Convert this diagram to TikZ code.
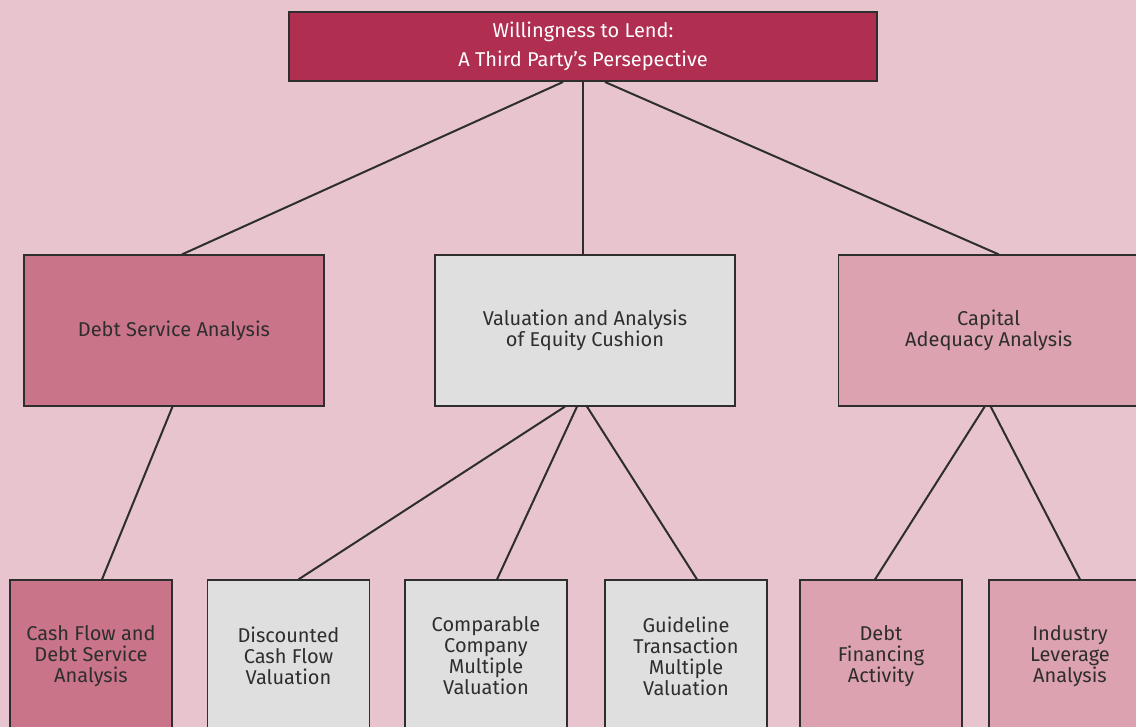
\documentclass[tikz,border=0pt]{standalone}
\usepackage{fontspec}
\setmainfont{Fira Sans}
\definecolor{wlbg}{HTML}{E8C4CE}
\definecolor{wlcrimson}{HTML}{B02E50}
\definecolor{wlrose}{HTML}{C97489}
\definecolor{wlgray}{HTML}{DFDFDF}
\definecolor{wlpink}{HTML}{DCA2B0}
\definecolor{wlink}{HTML}{2E2E2E}
\begin{document}
\begin{tikzpicture}[x=1pt, y=1pt,
  wlbox/.style = {draw=wlink, line width=1.2pt, align=center, inner sep=0pt, text=wlink,
    font=\fontsize{20}{21}\selectfont},
  wltop/.style = {wlbox, fill=wlcrimson, text=white, line width=2pt,
    minimum width=588pt, minimum height=69pt, font=\fontsize{20}{29}\selectfont},
  wlmid/.style = {wlbox, minimum width=300pt, minimum height=151pt},
  wlleaf/.style = {wlbox, minimum width=162pt, minimum height=152pt},
  wlline/.style = {line width=2pt, draw=wlink}
]
  % canvas
  \useasboundingbox (0,0) rectangle (1136,-727);
  \clip (0,0) rectangle (1136,-727);
  \fill[wlbg] (0,0) rectangle (1136,-727);
  % top
  \node[wltop] (lend) at (583,-46.5) {Willingness to Lend:\\A Third Party’s Persepective};
  % second row
  \node[wlmid, fill=wlrose] (debtsvc) at (174,-330.5) {Debt Service Analysis};
  \node[wlmid, fill=wlgray] (equity) at (585,-330.5) {Valuation and Analysis\\of Equity Cushion};
  \node[wlmid, fill=wlpink] (capital) at (988.7,-330.5) {Capital\\Adequacy Analysis};
  % third row
  \node[wlleaf, fill=wlrose] (cashflow) at (91,-656) {Cash Flow and\\Debt Service\\Analysis};
  \node[wlleaf, fill=wlgray] (dcf) at (288.5,-656) {Discounted\\Cash Flow\\Valuation};
  \node[wlleaf, fill=wlgray] (comparable) at (486,-656) {Comparable\\Company\\Multiple\\Valuation};
  \node[wlleaf, fill=wlgray] (guideline) at (686,-656) {Guideline\\Transaction\\Multiple\\Valuation};
  \node[wlleaf, fill=wlpink] (debtfin) at (881,-656) {Debt\\Financing\\Activity};
  \node[wlleaf, fill=wlpink] (leverage) at (1070,-656) {Industry\\Leverage\\Analysis};
  % connectors
  \draw[wlline] ([xshift=-20pt]lend.south) -- ([xshift=8pt]debtsvc.north);
  \draw[wlline] ([xshift=-0.5pt]lend.south) -- ([xshift=-2.5pt]equity.north);
  \draw[wlline] ([xshift=22pt]lend.south) -- ([xshift=10pt]capital.north);
  \draw[wlline] ([xshift=-1.5pt]debtsvc.south) -- ([xshift=11pt]cashflow.north);
  \draw[wlline] ([xshift=-20pt]equity.south) -- ([xshift=10pt]dcf.north);
  \draw[wlline] ([xshift=-8pt]equity.south) -- ([xshift=11pt]comparable.north);
  \draw[wlline] ([xshift=2pt]equity.south) -- ([xshift=11pt]guideline.north);
  \draw[wlline] ([xshift=-4pt]capital.south) -- ([xshift=-6pt]debtfin.north);
  \draw[wlline] ([xshift=2pt]capital.south) -- ([xshift=10pt]leverage.north);
\end{tikzpicture}
\end{document}
